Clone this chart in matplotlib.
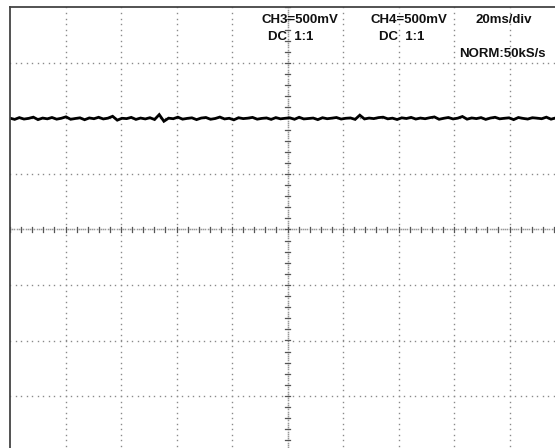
import numpy as np
import matplotlib
matplotlib.use('Agg')
import matplotlib.pyplot as plt

plt.rcParams['font.family'] = ['Liberation Sans', 'DejaVu Sans']

# screen settings
ch3_label = 'CH3=500mV'
ch4_label = 'CH4=500mV'
coupling = 'DC  1:1'
timebase = '20ms/div'
acq_mode = 'NORM:50kS/s'
volts_per_div = 500.0     # mV
n_xdiv, n_ydiv = 10, 8

# CH3 trace in mV, one sample every 1/12 division
trace_mv = [
    1003, 992, 1008, 995, 1001, 1012, 990, 1004, 997, 1009, 994, 1002, 1015, 993, 1000, 1006, 989, 1005, 998, 1011,
    996, 1003, 1020, 985, 1002, 999, 1010, 992, 1004, 996, 1007, 991, 1035, 975, 1003, 998, 1012, 994, 1001, 1006,
    990, 1004, 1009, 993, 1000, 1013, 996, 1002, 988, 1007, 999, 1003, 1010, 994, 1001, 1005, 992, 1008, 997, 1002,
    1006, 993, 1011, 996, 1000, 1004, 990, 1007, 998, 1003, 1009, 995, 1002, 1005, 992, 1030, 996, 1004, 999, 1008,
    1012, 997, 1003, 991, 1006, 1000, 1010, 995, 1004, 998, 1007, 1014, 993, 1002, 1009, 996, 1003, 1018, 994, 1005,
    999, 1008, 992, 1004, 1011, 997, 1002, 1006, 990, 1009, 1001, 995, 1007, 1003, 998, 1012, 994, 1005, 1000, 1004,
]

W, H = 555, 448
fig = plt.figure(figsize=(W / 100, H / 100), dpi=100)
fig.patch.set_facecolor('white')
# graticule is 555 px per 10 div, top-left corner at (10, 7.5); right and bottom run off the screen
ax = fig.add_axes([10 / W, (H - 451.5) / H, 555 / W, 444 / H])
ax.set_xlim(0, n_xdiv)
ax.set_ylim(-n_ydiv / 2, n_ydiv / 2)
ax.set_xticks([])
ax.set_yticks([])
for s in ['right', 'bottom']:
    ax.spines[s].set_visible(False)
for s in ['left', 'top']:
    ax.spines[s].set_color('#444444')
    ax.spines[s].set_linewidth(1.3)

dot = dict(marker='s', markersize=1.0, linestyle='none', color='#8a8a8a', markeredgewidth=0)

# dotted division lines
yy = np.arange(-n_ydiv / 2, n_ydiv / 2 + 0.01, 0.1)
for x in range(1, n_xdiv):
    if x == n_xdiv // 2:
        continue
    ax.plot(np.full_like(yy, x), yy, **dot)
xx = np.arange(0, n_xdiv + 0.01, 0.1)
for y in range(-n_ydiv // 2 + 1, n_ydiv // 2):
    if y == 0:
        continue
    ax.plot(xx, np.full_like(xx, y), **dot)

# centre axes with fine subdivisions
cx = np.arange(0, n_xdiv + 0.01, 0.04)
cy = np.arange(-n_ydiv / 2, n_ydiv / 2 + 0.01, 0.04)
ax.plot(cx, np.zeros_like(cx), marker='s', markersize=1.1, linestyle='none', color='#999999', markeredgewidth=0)
ax.plot(np.full_like(cy, 5), cy, marker='s', markersize=1.1, linestyle='none', color='#999999', markeredgewidth=0)
for t in np.arange(0, n_xdiv + 0.01, 0.2):
    ax.plot([t, t], [-0.045, 0.045], color='#555555', lw=0.9)
for t in np.arange(-n_ydiv / 2, n_ydiv / 2 + 0.01, 0.2):
    ax.plot([5 - 0.045, 5 + 0.045], [t, t], color='#555555', lw=0.9)

# CH3 trace
tx = np.linspace(0, n_xdiv, len(trace_mv))
ty = np.array(trace_mv) / volts_per_div
ax.plot(tx, ty, color='black', lw=2.0, solid_joinstyle='miter')

# readouts
def label(x, y, s):
    fig.text(x / W, 1 - y / H, s, fontsize=9.5, fontweight='bold', color='#111111',
             va='baseline', ha='left')

label(261, 23, ch3_label)
label(371, 23, ch4_label)
label(476, 23, timebase)
label(268, 39.5, coupling)
label(379, 39.5, coupling)
label(459, 57, acq_mode)

fig.savefig('out.png', dpi=100)
